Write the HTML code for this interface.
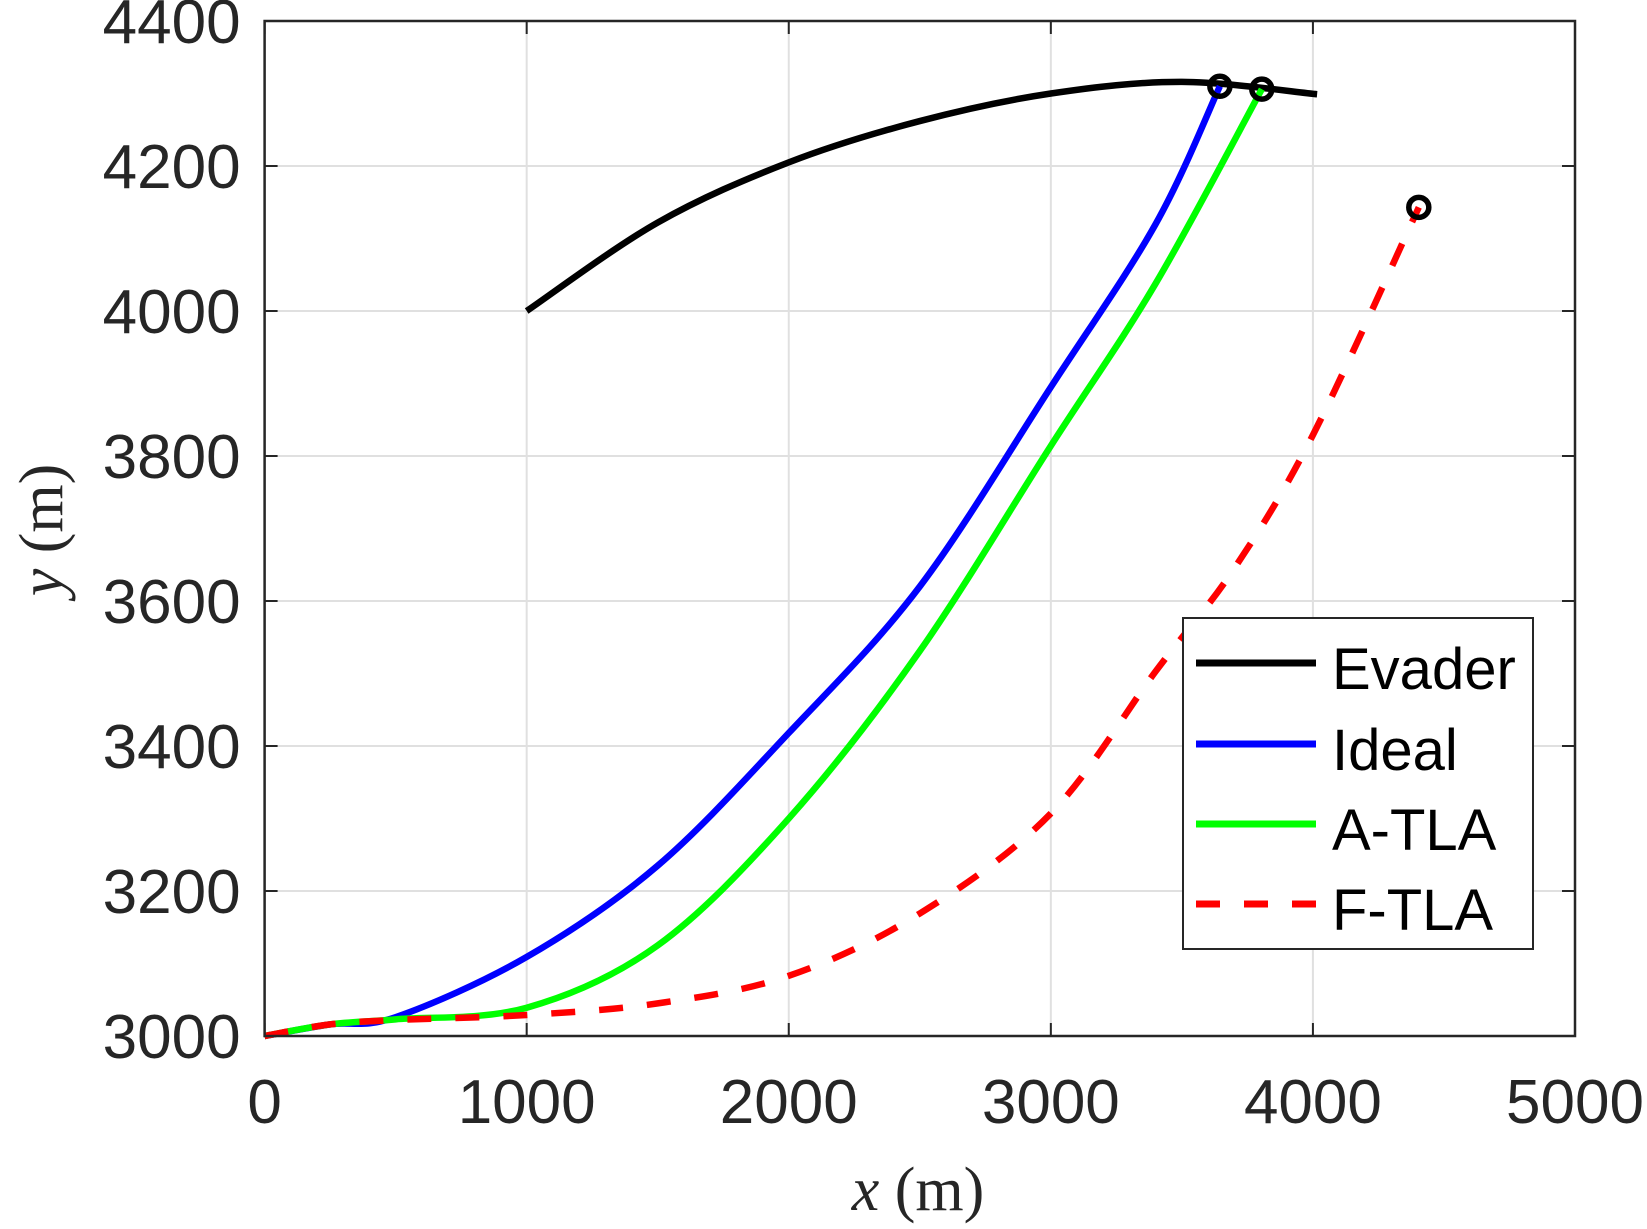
<!DOCTYPE html>
<html><head><meta charset="utf-8"><style>
html,body{margin:0;padding:0;background:#fff;}
svg{display:block;}
text{font-family:"Liberation Sans",sans-serif;fill:#262626;}
.ser{font-family:"Liberation Serif",serif;fill:#262626;}
</style></head><body>
<svg id="chart" width="1647" height="1229" viewBox="0 0 1647 1229" xmlns="http://www.w3.org/2000/svg">
<g id="grid"></g>
<g id="series"></g>
<g id="axes"></g>
<text class="ser" x="918" y="1210" font-size="62" text-anchor="middle"><tspan font-style="italic">x</tspan> (m)</text>
<text class="ser" transform="translate(62,530) rotate(-90)" font-size="62" text-anchor="middle"><tspan font-style="italic">y</tspan> (m)</text>
<g>
<rect x="1183" y="618" width="350" height="331" fill="#fff" stroke="#262626" stroke-width="2"/>
<line x1="1196" y1="663" x2="1316" y2="663" stroke="#000" stroke-width="7"/>
<text x="1332" y="689" font-size="58" style="fill:#000">Evader</text>
<line x1="1196" y1="744" x2="1316" y2="744" stroke="#0000ff" stroke-width="7"/>
<text x="1332" y="770" font-size="58" style="fill:#000">Ideal</text>
<line x1="1196" y1="824" x2="1316" y2="824" stroke="#00ff00" stroke-width="7"/>
<text x="1332" y="850" font-size="58" style="fill:#000">A-TLA</text>
<line x1="1196" y1="904" x2="1316" y2="904" stroke="#ff0000" stroke-width="7" stroke-dasharray="24,24"/>
<text x="1332" y="930" font-size="58" style="fill:#000">F-TLA</text>
</g>
</svg>
<script>
const xTicks=[0,1000,2000,3000,4000,5000];
const yTicks=[3000,3200,3400,3600,3800,4000,4200,4400];
const evaderX=[1000,1500,2000,2500,3000,3500,4016];
const evaderY=[4000,4122,4205,4262,4300,4316,4299];
const idealX=[0,250,500,1000,1500,2000,2500,3000,3400,3645];
const idealY=[3000,3016,3026,3109,3235,3418,3620,3895,4120,4310];
const atlaX=[0,250,500,1000,1500,2000,2500,3000,3400,3805];
const atlaY=[3000,3016,3023,3039,3125,3300,3531,3814,4038,4306];
const ftlaX=[0,250,500,1000,1500,2000,2500,3000,3400,3700,4000,4404];
const ftlaY=[3000,3016,3022,3029,3045,3083,3169,3307,3503,3645,3829,4143];
const L=264.6,R=1575,T=21,B=1036;
const sx=v=>L+(v-0)/(5000-0)*(R-L);
const sy=v=>B-(v-3000)/(4400-3000)*(B-T);
const NS='http://www.w3.org/2000/svg';
function mk(tag,parent,attrs){const e=document.createElementNS(NS,tag);for(const k in attrs)e.setAttribute(k,attrs[k]);parent.appendChild(e);return e;}
const grid=document.getElementById('grid'),axes=document.getElementById('axes'),ser=document.getElementById('series');
xTicks.forEach(t=>{
 const g=mk('line',grid,{x1:sx(t),x2:sx(t),y1:T,y2:B,stroke:'#e0e0e0','stroke-width':2});
 
 
 const tk=mk('line',axes,{x1:sx(t),x2:sx(t),y1:B,y2:B-13,stroke:'#262626','stroke-width':2});
 
 
 const tk2=mk('line',axes,{x1:sx(t),x2:sx(t),y1:T,y2:T+13,stroke:'#262626','stroke-width':2});
 
 
 const lb=mk('text',axes,{x:sx(t),y:B+87,'font-size':62,'text-anchor':'middle'});
 lb.textContent=t;
 
 
});
yTicks.forEach(t=>{
 const g=mk('line',grid,{x1:L,x2:R,y1:sy(t),y2:sy(t),stroke:'#e0e0e0','stroke-width':2});
 
 
 const tk=mk('line',axes,{x1:L,x2:L+13,y1:sy(t),y2:sy(t),stroke:'#262626','stroke-width':2});
 
 
 const tk2=mk('line',axes,{x1:R,x2:R-13,y1:sy(t),y2:sy(t),stroke:'#262626','stroke-width':2});
 
 
 const lb=mk('text',axes,{x:L-24,y:sy(t)+22,'font-size':62,'text-anchor':'end'});
 lb.textContent=t;
 
 
});
const box=mk('rect',axes,{x:L,y:T,width:R-L,height:B-T,fill:'none',stroke:'#262626','stroke-width':2.5});


function smooth(xs,ys){
 const p=xs.map((x,i)=>[sx(x),sy(ys[i])]);
 let d='M'+p[0][0]+','+p[0][1];
 for(let i=0;i<p.length-1;i++){
  const p0=p[i-1]||p[i],p1=p[i],p2=p[i+1],p3=p[i+2]||p[i+1];
  const c1=[p1[0]+(p2[0]-p0[0])/6,p1[1]+(p2[1]-p0[1])/6];
  const c2=[p2[0]-(p3[0]-p1[0])/6,p2[1]-(p3[1]-p1[1])/6];
  d+=' C'+c1+' '+c2+' '+p2;
 }
 return d;
}
function drawSeries(xs,ys,color,name,dash){
 const a={d:smooth(xs,ys),fill:'none',stroke:color,'stroke-width':6.5};
 if(dash)a['stroke-dasharray']=dash;
 const e=mk('path',ser,a);
 
 
}
drawSeries(evaderX,evaderY,'#000','evader-line');
drawSeries(idealX,idealY,'#0000ff','ideal-line');
drawSeries(atlaX,atlaY,'#00ff00','atla-line');
drawSeries(ftlaX,ftlaY,'#ff0000','ftla-line','24,24');
[[idealX,idealY,'ideal-end-marker'],[atlaX,atlaY,'atla-end-marker'],[ftlaX,ftlaY,'ftla-end-marker']].forEach(([xs,ys,n])=>{
 const c=mk('circle',ser,{cx:sx(xs[xs.length-1]),cy:sy(ys[ys.length-1]),r:10,fill:'none',stroke:'#000','stroke-width':5.5});
 
 
});
</script>
</body></html>
